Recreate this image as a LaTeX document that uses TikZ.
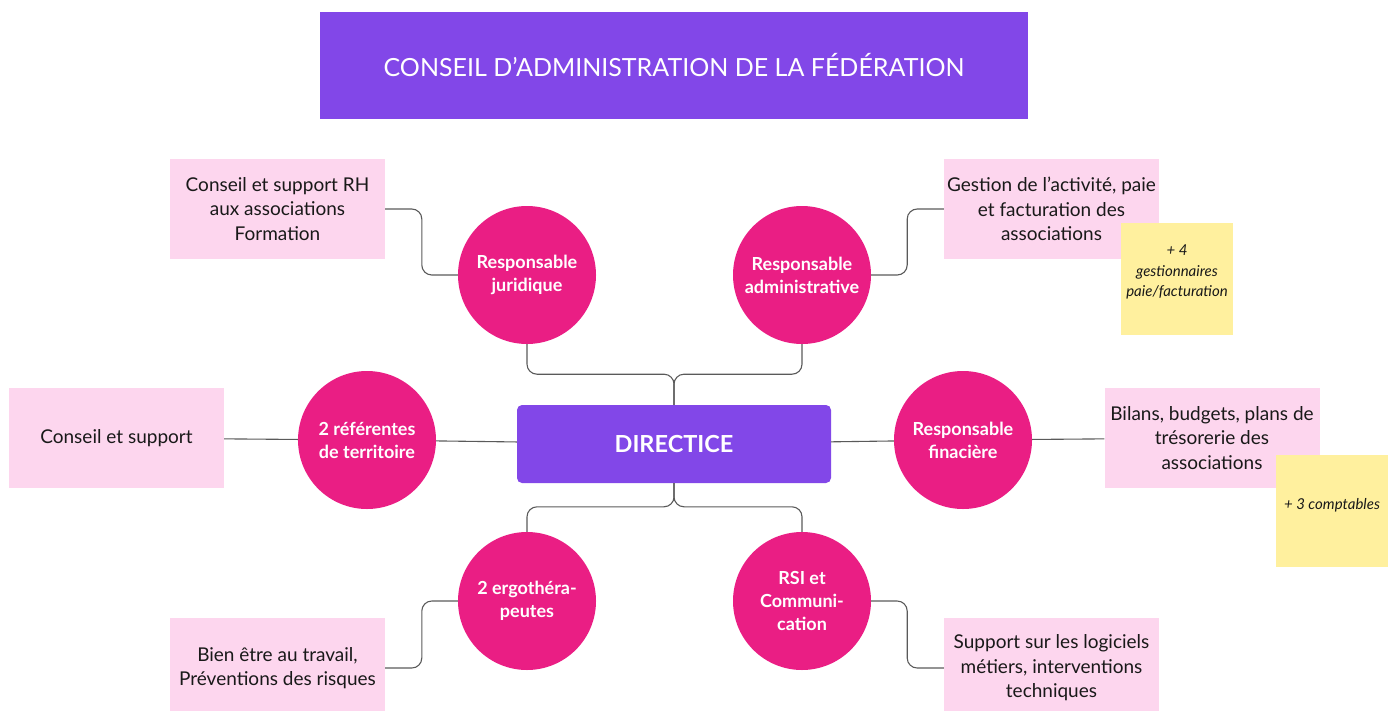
\documentclass[tikz,border=0pt]{standalone}
\usepackage{fontspec}
\setmainfont{Lato}
\usetikzlibrary{positioning}
\definecolor{fedpurple}{HTML}{8247E8}
\definecolor{rolepink}{HTML}{EA1E84}
\definecolor{taskpink}{HTML}{FDD6EE}
\definecolor{noteyellow}{HTML}{FFF09E}
\definecolor{linkgray}{HTML}{5A5A5A}
\tikzset{
    head/.style={rectangle, fill=fedpurple, text=white, minimum width=708pt, minimum height=107pt, font=\fontsize{25}{30}\selectfont},
    dirbox/.style={rectangle, rounded corners=5pt, fill=fedpurple, text=white, minimum width=314pt, minimum height=78pt, font=\bfseries\fontsize{23.5}{28}\selectfont},
    role/.style={circle, fill=rolepink, text=white, minimum size=138pt, inner sep=0pt, align=center, font=\bfseries\fontsize{18}{23}\selectfont},
    task/.style={rectangle, fill=taskpink, text=black!90, minimum width=215pt, minimum height=100pt, inner sep=0pt, align=center, font=\fontsize{19}{24.5}\selectfont},
    note/.style={rectangle, fill=noteyellow, minimum size=112pt, inner sep=0pt},
    notetext/.style={align=center, text=black!90, font=\itshape\fontsize{15}{20.5}\selectfont},
    link/.style={draw=linkgray, line width=1.1pt, rounded corners=10pt}
}
\begin{document}
\begin{tikzpicture}[x=1pt, y=-1pt]
    \useasboundingbox (0,0) rectangle (1395,710);
    % conseil + direction
    \node[head] (conseil) at (674,65.5) {CONSEIL D’ADMINISTRATION DE LA FÉDÉRATION};
    \node[dirbox] (dir) at (674,444) {DIRECTICE};
    % responsables
    \node[role] (jur) at (527,275) {Responsable\\juridique};
    \node[role] (adm) at (802,275) {Responsable\\administrative};
    \node[role] (ref) at (367,440) {2 référentes\\de territoire};
    \node[role] (fin) at (963,440) {Responsable\\finacière};
    \node[role] (ergo) at (527,601) {2 ergothéra-\\peutes};
    \node[role] (rsi) at (802,601) {RSI et\\Communi-\\cation};
    % missions
    \node[task] (rh) at (277.5,209) {Conseil et support RH\\aux associations\\Formation};
    \node[task] (gest) at (1051.5,209) {Gestion de l’activité, paie\\et facturation des\\associations};
    \node[task] (cs) at (116.5,438) {Conseil et support};
    \node[task] (bil) at (1212,438) {Bilans, budgets, plans de\\trésorerie des\\associations};
    \node[task] (bien) at (277.5,668) {Bien être au travail,\\Préventions des risques};
    \node[task] (supp) at (1051.5,668) {Support sur les logiciels\\métiers, interventions\\techniques};
    % post-it
    \node[note] (n1) at (1177,279) {};
    \node[notetext] (n1t) at ([yshift=7pt]n1.center) {+ 4\\gestionnaires\\paie/facturation};
    \node[note] (n2) at (1332,511) {};
    \node[notetext] (n2t) at ([yshift=6pt]n2.center) {+ 3 comptables};
    % liens
    \draw[link] (jur.west) -- ++(-36,0) |- (rh.east);
    \draw[link] (adm.east) -- ++(36,0) |- (gest.west);
    \draw[link] (ergo.west) -- ++(-36,0) |- (bien.east);
    \draw[link] (rsi.east) -- ++(36,0) |- (supp.west);
    \draw[link] (cs) -- (ref);
    \draw[link] (ref) -- (dir);
    \draw[link] (dir) -- (fin);
    \draw[link] (fin) -- (bil);
    \draw[link] (jur.south) -- ++(0,30) -| (dir.north);
    \draw[link] (adm.south) -- ++(0,30) -| (dir.north);
    \draw[link] (ergo.north) -- ++(0,-25) -| (dir.south);
    \draw[link] (rsi.north) -- ++(0,-25) -| (dir.south);
\end{tikzpicture}
\end{document}
